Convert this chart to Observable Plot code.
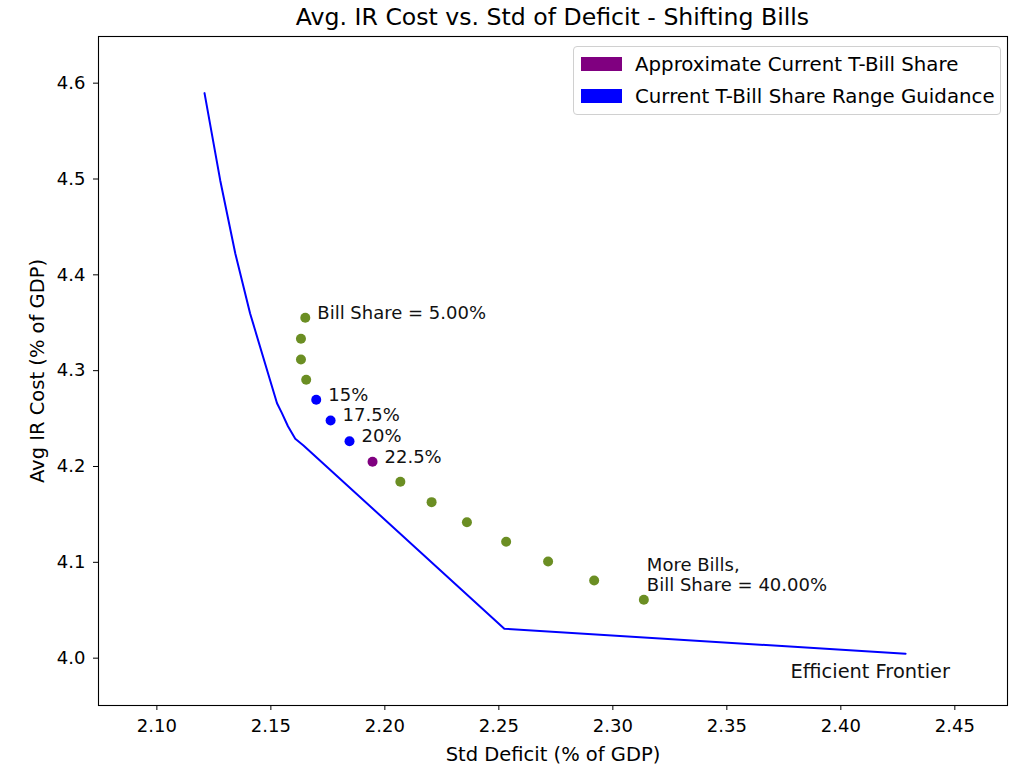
<!DOCTYPE html>
<html>
<head>
<meta charset="utf-8">
<script src="https://cdn.jsdelivr.net/npm/d3@7"></script>
<script src="https://cdn.jsdelivr.net/npm/@observablehq/plot@0.6"></script>
<style>
  html, body { margin: 0; padding: 0; background: white; }
  body { width: 1012px; height: 764px; position: relative; overflow: hidden; font-family: "DejaVu Sans", sans-serif; }
  #title { height: 34px; line-height: 34px; box-sizing: border-box; padding-left: 98px; padding-right: 5px; text-align: center; font-size: 23.6px; color: #000; white-space: nowrap; }
  #legend { position: absolute; left: 573px; top: 46px; width: 428px; height: 69px; box-sizing: border-box; border: 1px solid #d0d0d0; border-radius: 4px; background: rgba(255,255,255,0.8); font-size: 19.8px; color: #000; }
  .item { position: absolute; left: 7px; height: 22px; display: flex; align-items: center; white-space: nowrap; }
  .sw { width: 41px; height: 14px; margin-right: 13px; }
</style>
</head>
<body>
<div id="title">Avg. IR Cost vs. Std of Deficit - Shifting Bills</div>
<div id="chart"></div>
<div id="legend"></div>
<script>
// ---- data ----
const billShares = [5, 7.5, 10, 12.5, 15, 17.5, 20, 22.5, 25, 27.5, 30, 32.5, 35, 37.5, 40];
const stdDeficit = [2.1651, 2.1632, 2.1632, 2.1655, 2.1699, 2.1762, 2.1845, 2.1946, 2.2068, 2.2205, 2.2360, 2.2532, 2.2716, 2.2918, 2.3136];
const avgIRCost  = [4.3552, 4.3333, 4.3117, 4.2905, 4.2696, 4.2480, 4.2264, 4.2049, 4.1841, 4.1628, 4.1419, 4.1215, 4.1009, 4.0811, 4.0609];
const groups     = ["other","other","other","other","guidance","guidance","guidance","current","other","other","other","other","other","other","other"];
const pointLabels = ["Bill Share = 5.00%", "", "", "", "15%", "17.5%", "20%", "22.5%", "", "", "", "", "", "", ""];
const endLabel = "More Bills,\nBill Share = 40.00%";

const frontierStd  = [2.1209, 2.1278, 2.1344, 2.1409, 2.1497, 2.1527, 2.1548, 2.1575, 2.1607, 2.1643, 2.2524, 2.4284];
const frontierCost = [4.5896, 4.4985, 4.4223, 4.3597, 4.2898, 4.2660, 4.2560, 4.2420, 4.2289, 4.2220, 4.0307, 4.0046];
const frontierLabel = "Efficient Frontier";

const xTicks = [2.10, 2.15, 2.20, 2.25, 2.30, 2.35, 2.40, 2.45];
const yTicks = [4.0, 4.1, 4.2, 4.3, 4.4, 4.5, 4.6];

const groupNames  = ["other", "current", "guidance"];
const groupColors = ["#6b8e23", "#800080", "#0000ff"];
const legendNames = ["Approximate Current T-Bill Share", "Current T-Bill Share Range Guidance"];
const legendColors = ["#800080", "#0000ff"];

// ---- tables ----
const points = billShares.map((s, i) => ({share: s, x: stdDeficit[i], y: avgIRCost[i], group: groups[i], label: pointLabels[i]}));
const frontier = frontierStd.map((x, i) => ({x, y: frontierCost[i]}));
const last = points[points.length - 1];
const fEnd = frontier[frontier.length - 1];

const chart = Plot.plot({
  width: 1012,
  height: 730,
  marginLeft: 98,
  marginRight: 5,
  marginTop: 2,
  marginBottom: 59,
  style: {fontFamily: "DejaVu Sans", fontSize: "18px", background: "white", color: "black", overflow: "visible"},
  x: {domain: [2.0744, 2.4731]},
  y: {domain: [3.9506, 4.6487]},
  color: {domain: groupNames, range: groupColors},
  marks: [
    Plot.frame({stroke: "black", strokeWidth: 1.1}),
    Plot.axisX({ticks: xTicks, tickFormat: d3.format(".2f"), tickSize: 5, tickPadding: 9, fontSize: 18, label: null}),
    Plot.axisX({ticks: [], tickSize: 0, fontSize: 19.5,
      label: "Std Deficit (% of GDP)", labelAnchor: "center", labelOffset: 55, labelArrow: "none"}),
    Plot.axisY({ticks: yTicks, tickFormat: d3.format(".1f"), tickSize: 5, tickPadding: 8, fontSize: 18, label: null}),
    Plot.axisY({ticks: [], tickSize: 0, fontSize: 19.5,
      label: "Avg IR Cost (% of GDP)", labelAnchor: "center", labelOffset: 68, labelArrow: "none"}),
    Plot.line(frontier, {x: "x", y: "y", stroke: "#0000ff", strokeWidth: 2, curve: "linear"}),
    Plot.dot(points, {x: "x", y: "y", r: 5, fill: "group", stroke: "none"}),
    Plot.text(points.filter(d => d.label), {x: "x", y: "y", text: "label", textAnchor: "start", lineAnchor: "middle", dx: 12, dy: -5, fontSize: 18, fill: "#111"}),
    Plot.text([last], {x: "x", y: "y", text: () => endLabel, textAnchor: "start", lineAnchor: "bottom", lineHeight: 1.1, dx: 3, dy: -9, fontSize: 18, fill: "#111"}),
    Plot.text([fEnd], {x: "x", y: "y", text: () => frontierLabel, textAnchor: "start", lineAnchor: "bottom", dx: -115, dy: 24, fontSize: 19.4, fill: "#111"})
  ]
});
document.getElementById("chart").appendChild(chart);

// legend
const lg = document.getElementById("legend");
legendNames.forEach((name, i) => {
  const it = document.createElement("div");
  it.className = "item";
  it.style.top = (i === 0 ? 6 : 38) + "px";
  const sw = document.createElement("div");
  sw.className = "sw";
  sw.style.background = legendColors[i];
  const tx = document.createElement("span");
  tx.textContent = name;
  it.appendChild(sw); it.appendChild(tx);
  lg.appendChild(it);
});
</script>
</body>
</html>
